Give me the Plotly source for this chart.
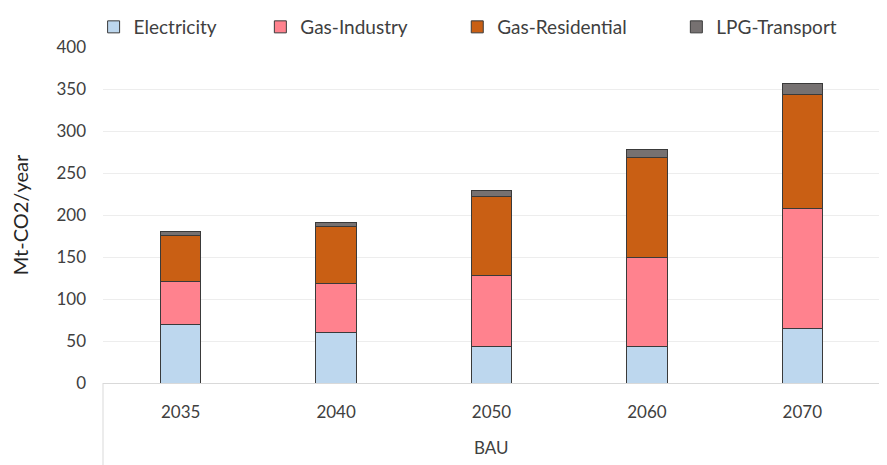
#!/usr/bin/env python3

import plotly.graph_objects as go

# BAU emissions by source (Mt-CO2/year)
years = ["2035", "2040", "2050", "2060", "2070"]
scenario = "BAU"
electricity = [70, 60, 43, 43, 65]
gas_industry = [51, 59, 85, 107, 143]
gas_residential = [55, 67, 94, 118, 136]
lpg_transport = [4, 5, 7, 10, 12]

series = [
    ("Electricity", electricity, "#BDD7EE", 0.0965),
    ("Gas-Industry", gas_industry, "#FF828E", 0.2845),
    ("Gas-Residential", gas_residential, "#C95F14", 0.5065),
    ("LPG-Transport", lpg_transport, "#767171", 0.7535),
]

FONT = "Lato, Carlito, Calibri, sans-serif"
TEXT = "#404040"
LINE = "#D9D9D9"

fig = go.Figure()

for i, (name, vals, color, lx) in enumerate(series):
    leg = "legend" if i == 0 else f"legend{i+1}"
    fig.add_trace(
        go.Bar(
            name=name,
            x=years,
            y=vals,
            marker=dict(color=color, line=dict(color="#3a3a3a", width=1)),
            legend=leg,
        )
    )

legends = {}
for i, (name, vals, color, lx) in enumerate(series):
    key = "legend" if i == 0 else f"legend{i+1}"
    legends[key] = dict(
        x=lx,
        y=1.0,
        xref="container",
        yref="container",
        xanchor="left",
        yanchor="top",
        orientation="h",
        bgcolor="rgba(0,0,0,0)",
        font=dict(family=FONT, size=19, color=TEXT),
        itemwidth=30,
    )

# the page body adds an 8px offset, so margins are set to land the plot
# area where the original has it
fig.update_layout(
    width=887,
    height=465,
    barmode="stack",
    bargap=0.74,
    plot_bgcolor="white",
    paper_bgcolor="white",
    margin=dict(l=95, r=15, t=39, b=90, autoexpand=False),
    font=dict(family=FONT, size=17, color=TEXT),
    showlegend=True,
    **legends,
)

fig.update_yaxes(
    range=[0, 400],
    dtick=50,
    showgrid=True,
    gridcolor="#EDEDED",
    gridwidth=1,
    zeroline=False,
    showline=False,
    ticks="",
    ticklabelstandoff=16,
    tickfont=dict(family=FONT, size=17, color=TEXT),
    title=dict(text="Mt-CO2/year", font=dict(family=FONT, size=20, color="#262626"), standoff=26),
)

fig.update_xaxes(
    showline=True,
    linecolor=LINE,
    linewidth=1,
    showgrid=False,
    ticks="",
    ticklabelstandoff=14,
    tickfont=dict(family=FONT, size=17, color=TEXT),
)

# scenario label and the box lines that frame it under the axis
fig.add_annotation(
    text=scenario, x=0.5, y=-0.193, xref="paper", yref="paper",
    showarrow=False, font=dict(family=FONT, size=17, color=TEXT),
    yanchor="middle",
)
for xp in (0, 1):
    fig.add_shape(
        type="line", xref="paper", yref="paper",
        x0=xp, x1=xp, y0=0, y1=-0.268,
        line=dict(color=LINE, width=1),
    )

fig.write_html("out.html")
